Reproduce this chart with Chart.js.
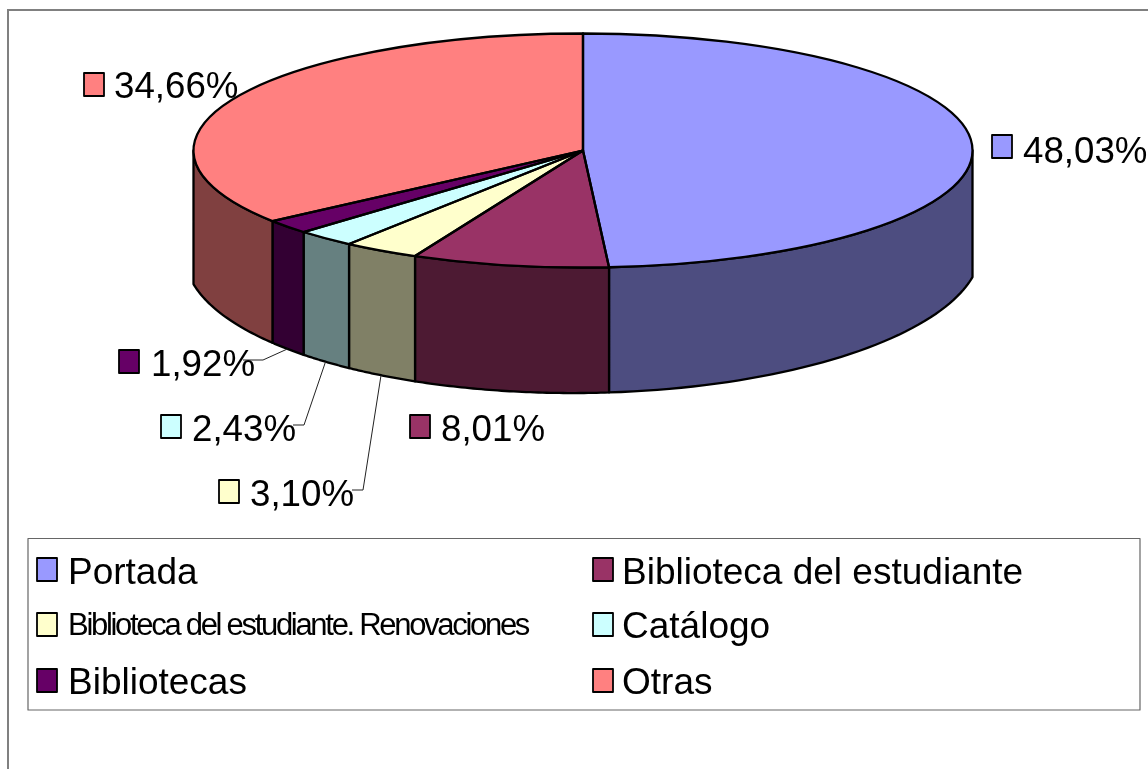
<!DOCTYPE html>
<html><head><meta charset="utf-8">
<style>html,body{margin:0;padding:0;background:#fff}canvas{display:block}</style>
<script src="https://cdn.jsdelivr.net/npm/chart.js@4/dist/chart.umd.js"></script>
</head><body>
<canvas id="c" width="1148" height="769"></canvas>
<script>
const categories = ['Portada','Biblioteca del estudiante','Biblioteca del estudiante. Renovaciones','Catálogo','Bibliotecas','Otras'];
const shares = [48.03, 8.01, 3.10, 2.43, 1.92, 34.66];
const topColors = ['#9999FF','#993366','#FFFFCC','#CCFFFF','#660066','#FF8080'];
const wallColors = ['#4D4D80','#4D1A33','#808066','#668080','#330033','#804040'];

const FONT = '"Liberation Sans", Arial, sans-serif';
const RX = 389.5, SQUASH = 117/389.5;

// label placement: swatch left/top, text left, baseline, optional leader bend points
const labelLayout = [
  {sx:992, sy:135, tx:1023, by:163},
  {sx:410, sy:415, tx:441,  by:441},
  {sx:219, sy:480, tx:250,  by:506, bend:[[363,490],[352,490]]},
  {sx:161, sy:415, tx:192,  by:441, bend:[[304,425],[293,425]]},
  {sx:119, sy:350, tx:151,  by:376, bend:[[263,360],[243,360]]},
  {sx:84,  sy:73,  tx:114,  by:98}
];
// legend placement, row by row
const legendLayout = [
  {sx:37,  sy:558, tx:68,  by:584, size:37},
  {sx:593, sy:558, tx:622, by:584, size:37},
  {sx:37,  sy:613, tx:68,  by:635, size:31, spacing:-2.3},
  {sx:593, sy:613, tx:622, by:638, size:37},
  {sx:37,  sy:669, tx:68,  by:694, size:37},
  {sx:593, sy:669, tx:622, by:694, size:37}
];

// lower rim of the wall, as seen in the oblique view
function rimY(dx){
  return 251.5 + 141.5*Math.sqrt(Math.max(0,1-(dx/398)*(dx/398))) - 0.009*dx;
}

function swatch(ctx,x,y,color){
  ctx.fillStyle = color; ctx.fillRect(x,y,20,23);
  ctx.strokeStyle = '#000'; ctx.lineWidth = 1.8; ctx.strokeRect(x,y,20,23);
}

const pie3d = {
  id:'pie3d',
  beforeDraw(chart){
    const ctx = chart.ctx;
    ctx.save();
    ctx.fillStyle='#fff'; ctx.fillRect(0,0,1148,769);
    ctx.strokeStyle='#808080'; ctx.lineWidth=2;
    ctx.beginPath(); ctx.moveTo(8,769); ctx.lineTo(8,10); ctx.lineTo(1148,10); ctx.stroke();
    ctx.restore();
  },
  beforeDatasetsDraw(chart){
    const ctx = chart.ctx, arcs = chart.getDatasetMeta(0).data;
    arcs.forEach((el,i)=>{
      const a0 = Math.max(el.startAngle,0), a1 = Math.min(el.endAngle,Math.PI);
      if(a1<=a0) return;
      const r = el.outerRadius, cx = el.x, cy = el.y;
      ctx.beginPath();
      ctx.ellipse(cx,cy,r,r*SQUASH,0,a0,a1);
      const steps = 48;
      for(let s=steps;s>=0;s--){
        const a = a0+(a1-a0)*s/steps, dx = r*Math.cos(a);
        ctx.lineTo(cx+dx,rimY(dx));
      }
      ctx.closePath();
      ctx.fillStyle = wallColors[i]; ctx.fill();
      ctx.strokeStyle='#000'; ctx.lineWidth=2.3; ctx.lineJoin='round'; ctx.stroke();
    });
    const el = arcs[0];
    ctx.save();
    ctx.translate(el.x,el.y); ctx.scale(1,SQUASH); ctx.translate(-el.x,-el.y);
  },
  afterDatasetsDraw(chart){
    const ctx = chart.ctx, arcs = chart.getDatasetMeta(0).data;
    ctx.restore();
    arcs.forEach(el=>{
      const r = el.outerRadius;
      ctx.beginPath();
      ctx.moveTo(el.x,el.y);
      ctx.ellipse(el.x,el.y,r,r*SQUASH,0,el.startAngle,el.endAngle);
      ctx.closePath();
      ctx.strokeStyle='#000'; ctx.lineWidth=2.3; ctx.lineJoin='round'; ctx.stroke();
    });

    // leaders
    ctx.strokeStyle='#222'; ctx.lineWidth=1;
    arcs.forEach((el,i)=>{
      const L = labelLayout[i]; if(!L.bend) return;
      const mid = (el.startAngle+el.endAngle)/2, dx = el.outerRadius*Math.cos(mid);
      ctx.beginPath();
      ctx.moveTo(el.x+dx, rimY(dx));
      L.bend.forEach(p=>ctx.lineTo(p[0],p[1]));
      ctx.stroke();
    });

    // data labels
    ctx.textBaseline='alphabetic'; ctx.textAlign='left';
    shares.forEach((v,i)=>{
      const L = labelLayout[i];
      swatch(ctx,L.sx,L.sy,topColors[i]);
      ctx.fillStyle='#000'; ctx.font='36.7px '+FONT;
      ctx.fillText(v.toFixed(2).replace('.',',')+'%',L.tx,L.by);
    });

    // legend
    ctx.strokeStyle='#666'; ctx.lineWidth=1.2;
    ctx.strokeRect(28,538.5,1112,171.5);
    categories.forEach((name,i)=>{
      const L = legendLayout[i];
      swatch(ctx,L.sx,L.sy,topColors[i]);
      ctx.fillStyle='#000'; ctx.font=L.size+'px '+FONT;
      ctx.letterSpacing=(L.spacing||0)+'px';
      ctx.fillText(name,L.tx,L.by);
      ctx.letterSpacing='0px';
    });
  }
};

new Chart(document.getElementById('c'),{
  type:'pie',
  data:{labels:categories,datasets:[{data:shares,backgroundColor:topColors,borderWidth:0,clip:false}]},
  options:{
    responsive:false,animation:false,events:[],
    radius:RX,
    layout:{padding:{left:18,right:0,top:0,bottom:468}},
    plugins:{legend:{display:false},tooltip:{enabled:false},title:{display:false}}
  },
  plugins:[pie3d]
});
</script>
</body></html>
